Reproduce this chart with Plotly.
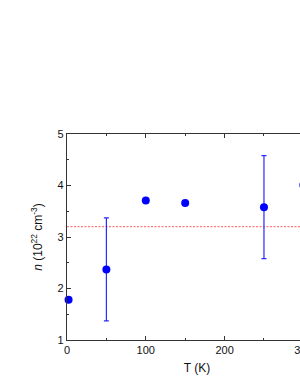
import plotly.graph_objects as go

T = [2, 50, 100, 150, 250, 300]
n = [1.78, 2.37, 3.71, 3.66, 3.58, 4.01]
err = [0, 1.0, 0, 0, 1.0, 0]
avg_n = 3.2
x_range = [0, 330]
y_range = [1, 5]

fig = go.Figure()
fig.add_trace(go.Scatter(
    x=x_range, y=[avg_n, avg_n], mode="lines",
    line=dict(color="#ff7a7a", width=1.2, dash="2px,1.5px"),
    hoverinfo="skip", showlegend=False, cliponaxis=True))
fig.add_trace(go.Scatter(
    x=T, y=n, mode="markers",
    marker=dict(color="#0000ff", size=8, symbol="circle"),
    error_y=dict(type="data", array=err, visible=True, color="#2a2aff",
                 thickness=1.2, width=2.5),
    showlegend=False, cliponaxis=False))

axis_common = dict(showline=True, linecolor="#333333", linewidth=1.2, mirror="ticks",
                   ticks="inside", ticklen=4, tickwidth=1, tickcolor="#333333",
                   showgrid=False, zeroline=False,
                   tickfont=dict(family="Arial, Liberation Sans, sans-serif", size=11, color="#111"))
fig.update_xaxes(range=x_range, dtick=100, tick0=0,
                 minor=dict(dtick=50, ticks="inside", ticklen=2, tickcolor="#333333"),
                 title=dict(text="T (K)", font=dict(family="Arial, Liberation Sans, sans-serif", size=12, color="#111"), standoff=8),
                 **axis_common)
fig.update_yaxes(range=y_range, dtick=1, tick0=1,
                 minor=dict(dtick=0.5, ticks="inside", ticklen=2, tickcolor="#333333"),
                 title=dict(text="<i>n</i> (10<sup>22</sup> cm<sup>-3</sup>)", font=dict(family="Arial, Liberation Sans, sans-serif", size=12, color="#111"), standoff=12),
                 **axis_common)
fig.update_layout(width=340, height=388, margin=dict(l=67, r=13, t=134, b=48),
                  paper_bgcolor="white", plot_bgcolor="white")
fig.write_html("out.html", config={"displayModeBar": False},
               post_script="document.body.style.margin='0';document.body.style.overflow='hidden';document.documentElement.style.overflow='hidden';")
